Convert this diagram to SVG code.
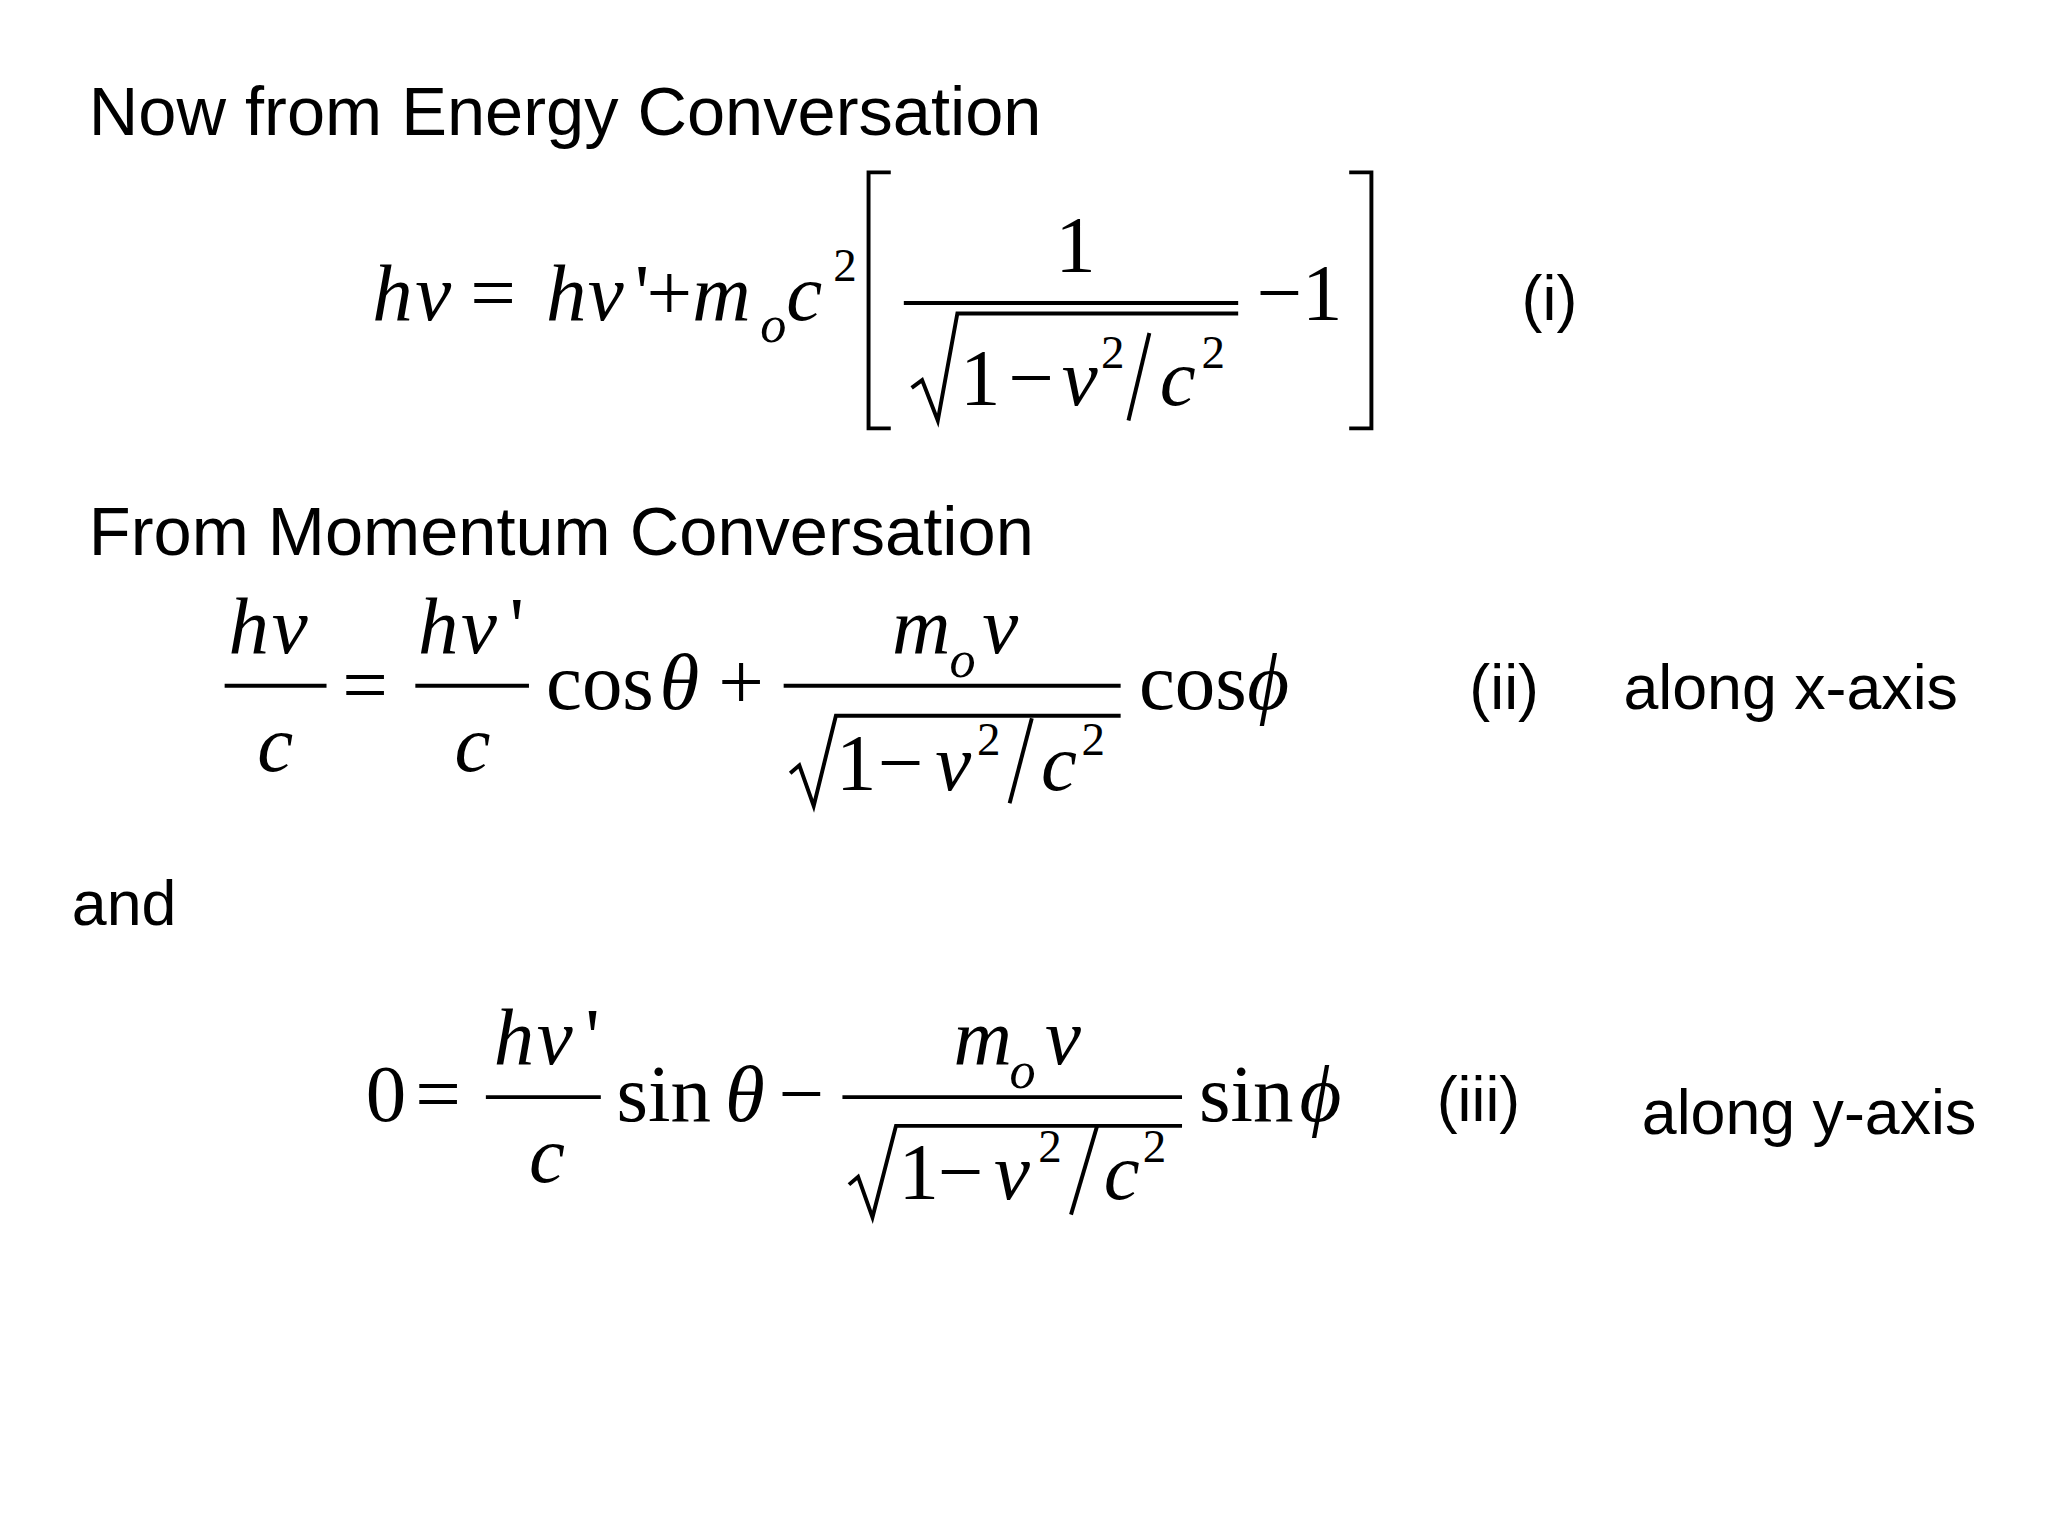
<svg xmlns="http://www.w3.org/2000/svg" width="2048" height="1536" viewBox="0 0 2048 1536">
<style>
.s{font-family:"Liberation Sans",Arial,sans-serif;font-size:48px;fill:#000}
.t{font-size:52.5px}
.m{font-family:"Liberation Serif","Times New Roman",serif;font-size:62px;fill:#000}
.i{font-style:italic}
.sub{font-size:40px}
.sup{font-size:36px}
.ln{stroke:#000;stroke-width:3;fill:none}
</style>
<rect width="2048" height="1536" fill="#fff"/>
<g transform="scale(1.3061)">
<g id="title1"><text class="s t" x="68" y="103">Now from Energy Conversation</text></g>
<g id="eq1">
<text class="m i" x="285" y="245">h</text><text class="m i" x="318" y="245">ν</text>
<text class="m" x="360" y="245">=</text>
<text class="m i" x="418" y="245">h</text><text class="m i" x="450" y="245">ν</text><text class="m" x="486" y="245">'</text>
<text class="m" x="495" y="245">+</text>
<text class="m i" x="530" y="245">m</text><text class="m i sub" x="582" y="262">o</text>
<text class="m i" x="602" y="245">c</text><text class="m sup" x="638" y="215">2</text>
<path class="ln" d="M682,132 H665 V328 H682"/>
<text class="m" x="808" y="208">1</text>
<path class="ln" d="M692,232 H948"/>
<path class="ln" d="M698,297 L706,291 L718,322 L733,240 H948"/>
<text class="m" x="735" y="310">1</text><text class="m" x="772" y="310">−</text>
<text class="m i" x="813" y="310">v</text><text class="m sup" x="843" y="282">2</text>
<path class="ln" d="M880,255 L864,322" stroke-width="2"/>
<text class="m i" x="888" y="310">c</text><text class="m sup" x="920" y="282">2</text>
<text class="m" x="962" y="245">−1</text>
<path class="ln" d="M1033,132 H1050 V328 H1033"/>
<text class="s" x="1165" y="245">(i)</text>
</g>
<g id="title2"><text class="s t" x="68" y="425">From Momentum Conversation</text></g>
<g id="eq2">
<text class="m i" x="175" y="500">h</text><text class="m i" x="208" y="500">ν</text>
<path class="ln" d="M172,525 H250"/>
<text class="m i" x="197" y="590">c</text>
<text class="m" x="262" y="545">=</text>
<text class="m i" x="320" y="500">h</text><text class="m i" x="353" y="500">ν</text><text class="m" x="390" y="500">'</text>
<path class="ln" d="M318,525 H405"/>
<text class="m i" x="348" y="590">c</text>
<text class="m" x="418" y="543">cos</text><text class="m i" x="505" y="543">θ</text>
<text class="m" x="550" y="543">+</text>
<text class="m i" x="683" y="500">m</text><text class="m i sub" x="727" y="518">o</text><text class="m i" x="752" y="500">v</text>
<path class="ln" d="M600,525 H858"/>
<path class="ln" d="M605,592 L612,586 L623,617 L640,548 H858"/>
<text class="m" x="640" y="605">1</text><text class="m" x="672" y="605">−</text>
<text class="m i" x="716" y="605">v</text><text class="m sup" x="748" y="578">2</text>
<path class="ln" d="M790,550 L773,615" stroke-width="2"/>
<text class="m i" x="797" y="605">c</text><text class="m sup" x="828" y="578">2</text>
<text class="m" x="872" y="543">cos</text><text class="m i" x="955" y="543">ϕ</text>
<text class="s" x="1125" y="543">(ii)</text>
<text class="s" x="1243" y="543">along x-axis</text>
</g>
<g id="and"><text class="s" x="55" y="708">and</text></g>
<g id="eq3">
<text class="m" x="280" y="858">0</text><text class="m" x="318" y="858">=</text>
<text class="m i" x="378" y="815">h</text><text class="m i" x="411" y="815">ν</text><text class="m" x="448" y="815">'</text>
<path class="ln" d="M372,840 H460"/>
<text class="m i" x="405" y="905">c</text>
<text class="m" x="472" y="858">sin</text><text class="m i" x="555" y="858">θ</text>
<text class="m" x="596" y="858">−</text>
<text class="m i" x="730" y="815">m</text><text class="m i sub" x="773" y="833">o</text><text class="m i" x="800" y="815">v</text>
<path class="ln" d="M645,840 H905"/>
<path class="ln" d="M650,907 L657,901 L668,932 L686,862 H905"/>
<text class="m" x="688" y="918">1</text><text class="m" x="718" y="918">−</text>
<text class="m i" x="761" y="918">v</text><text class="m sup" x="795" y="890">2</text>
<path class="ln" d="M840,862 L820,930" stroke-width="2"/>
<text class="m i" x="845" y="918">c</text><text class="m sup" x="875" y="890">2</text>
<text class="m" x="918" y="858">sin</text><text class="m i" x="995" y="858">ϕ</text>
<text class="s" x="1100" y="858">(iii)</text>
<text class="s" x="1257" y="868">along y-axis</text>
</g>
</g>
</svg>
